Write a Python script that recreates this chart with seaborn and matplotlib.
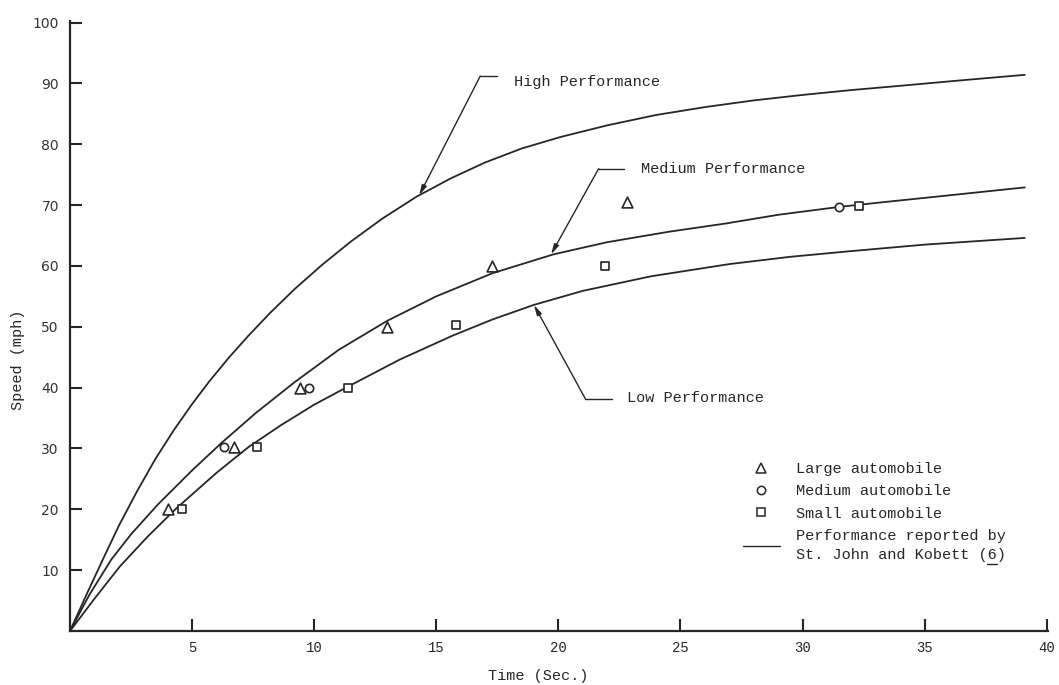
import numpy as np
import matplotlib.pyplot as plt
import pandas as pd
import seaborn as sns
from matplotlib.lines import Line2D

# ---- curves (time in s, speed in mph) ----
high_t = [0, 0.7, 1.35, 2.0, 2.75, 3.5, 4.25, 5.0, 5.7, 6.5, 7.3, 8.2, 9.2, 10.3, 11.5,
          12.8, 14.2, 15.6, 17.0, 18.5, 20.1, 22.0, 24.0, 26.0, 28.0, 30.0, 32.0, 34.0,
          36.5, 39.1]
high_v = [0, 6.2, 11.8, 17.3, 23.0, 28.3, 33.0, 37.3, 41.0, 44.9, 48.5, 52.3, 56.2, 60.1,
          64.0, 67.8, 71.4, 74.4, 77.0, 79.3, 81.2, 83.1, 84.8, 86.1, 87.2, 88.1, 88.9,
          89.6, 90.5, 91.4]

med_t = [0, 0.8, 1.7, 2.5, 3.6, 5.0, 6.2, 7.6, 9.2, 11.0, 13.0, 15.0, 17.3, 19.8, 22.0,
         24.5, 26.9, 29.0, 31.5, 33.6, 36.0, 39.1]
med_v = [0, 6.0, 11.8, 15.9, 20.8, 26.4, 30.9, 35.8, 40.9, 46.2, 51.0, 55.0, 58.8, 61.9,
         63.9, 65.6, 67.0, 68.4, 69.7, 70.6, 71.6, 72.9]

low_t = [0, 1.0, 2.04, 3.2, 4.34, 6.0, 7.3, 8.63, 10.0, 11.4, 13.5, 15.7, 17.3, 19.0, 21.0,
         23.8, 27.0, 29.5, 31.9, 35.0, 39.1]
low_v = [0, 5.3, 10.6, 15.6, 20.1, 26.0, 30.2, 33.8, 37.2, 40.2, 44.6, 48.6, 51.2, 53.6,
         55.9, 58.3, 60.3, 61.5, 62.4, 63.5, 64.6]

# ---- measured points ----
large_t = [4.0, 6.7, 9.4, 13.0, 17.3, 22.8]
large_v = [20, 30.3, 40, 50, 60, 70.5]
medium_t = [6.3, 9.8, 31.5]
medium_v = [30.3, 40, 69.6]
small_t = [4.6, 7.65, 11.4, 15.8, 21.9, 32.3]
small_v = [20, 30.2, 39.9, 50.3, 60, 69.8]

x_ticks = [5, 10, 15, 20, 25, 30, 35, 40]
y_ticks = [10, 20, 30, 40, 50, 60, 70, 80, 90, 100]

INK = '#262626'
MONO = 'Liberation Mono'

sns.set_style('ticks')
plt.rcParams['font.family'] = [MONO, 'DejaVu Sans']

curves = pd.concat([
    pd.DataFrame({'t': high_t, 'v': high_v, 'curve': 'high'}),
    pd.DataFrame({'t': med_t, 'v': med_v, 'curve': 'medium'}),
    pd.DataFrame({'t': low_t, 'v': low_v, 'curve': 'low'}),
])

fig = plt.figure(figsize=(10.59, 6.85), dpi=100)
ax = fig.add_axes([0.0661, 0.0788, 0.9235, 0.8910])

sns.lineplot(data=curves, x='t', y='v', hue='curve', units='curve', estimator=None,
             sort=False, palette={'high': INK, 'medium': INK, 'low': INK},
             linewidth=1.3, legend=False, ax=ax)

sns.scatterplot(x=large_t, y=large_v, marker='^', s=60, facecolor='white',
                edgecolor=INK, linewidth=1.2, ax=ax, zorder=3)
sns.scatterplot(x=medium_t, y=medium_v, marker='o', s=36, facecolor='white',
                edgecolor=INK, linewidth=1.2, ax=ax, zorder=3)
sns.scatterplot(x=small_t, y=small_v, marker='s', s=40, facecolor='white',
                edgecolor=INK, linewidth=1.2, ax=ax, zorder=3)

ax.set_xlim(0, 40.05)
ax.set_ylim(0, 100.3)
ax.set_xticks(x_ticks)
ax.set_yticks(y_ticks)
ax.set_xticklabels([str(t) for t in x_ticks], family=MONO, fontsize=10, color=INK)
ax.set_yticklabels([str(t) for t in y_ticks], family='DejaVu Sans', fontsize=10, color='#333333')
ax.tick_params(axis='both', direction='in', length=8.5, width=1.5, color=INK)
ax.tick_params(axis='x', pad=7)
ax.tick_params(axis='y', pad=8)
sns.despine(ax=ax)
for side in ['left', 'bottom']:
    ax.spines[side].set_linewidth(1.6)
    ax.spines[side].set_color(INK)

ax.set_xlabel('')
ax.set_ylabel('')
fig.text(538 / 1059, 1 - 676 / 685, 'Time (Sec.)', fontsize=11, color=INK,
         ha='center', va='center', family=MONO)
fig.text(18 / 1059, 1 - 360 / 685, 'Speed (mph)', fontsize=11, color=INK,
         ha='center', va='center', rotation=90, family=MONO)

# leader annotations
arrow_kw = dict(arrowstyle='-|>,head_length=0.6,head_width=0.15', lw=1.0,
                color=INK, shrinkA=0, shrinkB=0)
leaders = [
    ('High Performance', (14.3, 71.6), (16.8, 91.2), 17.5, 18.2, 90.2),
    ('Medium Performance', (19.7, 61.9), (21.65, 76.0), 22.7, 23.4, 75.9),
    ('Low Performance', (19.0, 53.6), (21.1, 38.2), 22.2, 22.8, 38.3),
]
for label, tip, corner, hx, tx, ty in leaders:
    ax.annotate('', xy=tip, xytext=corner, arrowprops=arrow_kw)
    ax.plot([corner[0], hx], [corner[1], corner[1]], color=INK, lw=1.0)
    ax.text(tx, ty, label, fontsize=11, color=INK, va='center', ha='left', family=MONO)

handles = [
    Line2D([], [], ls='none', marker='^', markersize=7.5, mfc='white', mec=INK, mew=1.1),
    Line2D([], [], ls='none', marker='o', markersize=6, mfc='white', mec=INK, mew=1.1),
    Line2D([], [], ls='none', marker='s', markersize=6, mfc='white', mec=INK, mew=1.1),
    Line2D([], [], color=INK, lw=1.0),
]
labels = ['Large automobile', 'Medium automobile', 'Small automobile',
          'Performance reported by\nSt. John and Kobett (6)']
leg = ax.legend(handles, labels, loc='upper left', bbox_to_anchor=(0.7016, 0.3255),
                bbox_transform=fig.transFigure, frameon=False, fontsize=11,
                handlelength=2.4, handletextpad=1.1, labelspacing=0.55,
                borderpad=0, borderaxespad=0)
for txt in leg.get_texts():
    txt.set_color(INK)
    txt.set_family(MONO)
leg.get_texts()[-1].set_linespacing(1.45)

# underline under the reference number "6"
fig.add_artist(Line2D([987 / 1059, 997 / 1059], [1 - 564 / 685, 1 - 564 / 685],
                      color=INK, lw=1.0, transform=fig.transFigure))

fig.savefig('out.png', dpi=100, facecolor='white')
